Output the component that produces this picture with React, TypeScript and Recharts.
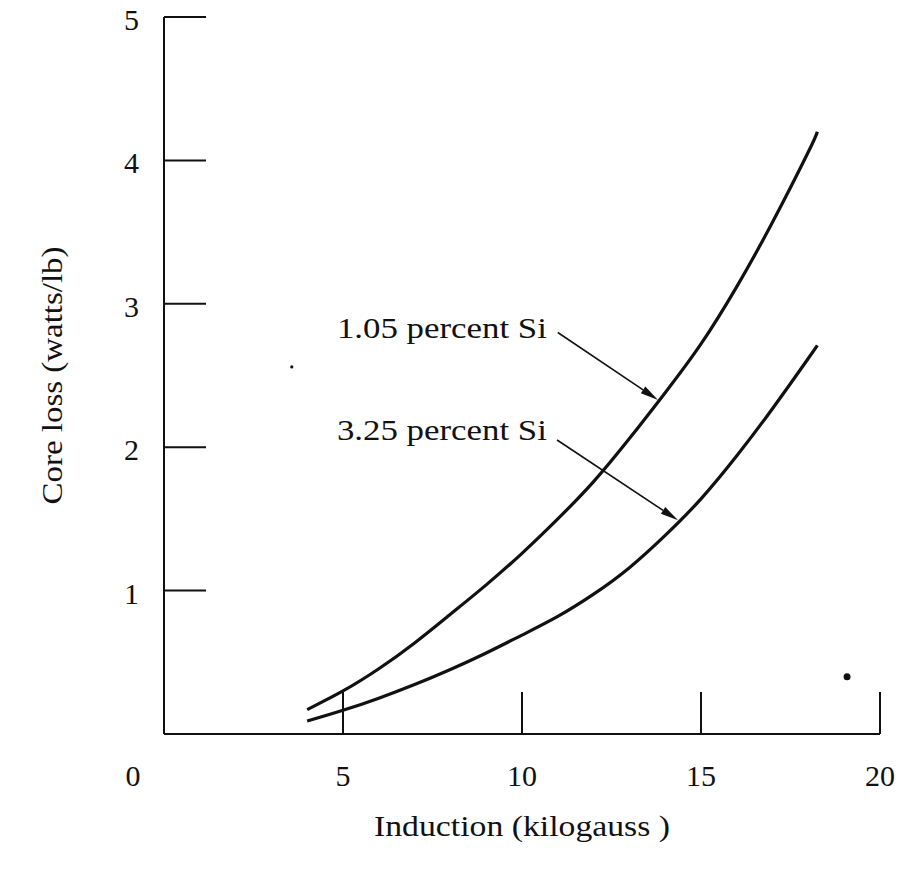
import React from 'react';
import { ComposedChart, Line, XAxis, YAxis, ReferenceLine, ReferenceDot } from 'recharts';

// induction (kilogauss) and core loss (watts/lb)
const induction = [4, 5, 6, 7, 8, 9, 10, 11, 12, 13, 14, 15, 16, 17, 18, 18.25];
const loss105 = [0.17, 0.3, 0.455, 0.635, 0.835, 1.04, 1.26, 1.5, 1.76, 2.06, 2.38, 2.72, 3.12, 3.57, 4.06, 4.2];
const loss325 = [0.09, 0.165, 0.25, 0.345, 0.45, 0.565, 0.69, 0.82, 0.975, 1.16, 1.385, 1.64, 1.94, 2.27, 2.62, 2.71];

const xTicks = [0, 5, 10, 15, 20];
const yTicks = [0, 1, 2, 3, 4, 5];

const labelText = ['1.05 percent Si', '3.25 percent Si'];
const labelAt = [{ x: 4.83, y: 2.76 }, { x: 4.83, y: 2.05 }];
const arrowFrom = [{ x: 11.0, y: 2.8 }, { x: 10.98, y: 2.05 }];
const arrowTo = [{ x: 13.8, y: 2.33 }, { x: 14.36, y: 1.49 }];

// stray specks in the scan
const speckX = [3.57, 19.08];
const speckY = [2.56, 0.4];
const speckR = [1.6, 3.5];

const rows = induction.map((x, i) => ({ x, low: loss105[i], high: loss325[i] }));

const INK = '#111';
const FONT = 'Liberation Serif, Times New Roman, serif';

function XTick(props: any) {
  const { x, y, payload } = props;
  const v = payload.value;
  return (
    <g>
      {v !== 0 && <line x1={x} y1={y} x2={x} y2={y - 42} stroke={INK} strokeWidth={2} />}
      <text x={v === 0 ? x - 31 : x} y={y + 52} textAnchor="middle" fontSize={30} fontFamily={FONT} fill={INK}>
        {v}
      </text>
    </g>
  );
}

function YTick(props: any) {
  const { x, y, payload } = props;
  const v = payload.value;
  if (v === 0) return null;
  return (
    <g>
      <line x1={x} y1={y} x2={x + 42} y2={y} stroke={INK} strokeWidth={2} />
      <text x={x - 25} y={y + 13} textAnchor="end" fontSize={30} fontFamily={FONT} fill={INK}>
        {v}
      </text>
    </g>
  );
}

function Arrow(p: any) {
  const { x1, y1, x2, y2 } = p;
  const a = Math.atan2(y2 - y1, x2 - x1);
  const len = 18;
  const half = 4;
  const bx = x2 - len * Math.cos(a);
  const by = y2 - len * Math.sin(a);
  const nx = -Math.sin(a) * half;
  const ny = Math.cos(a) * half;
  return (
    <g>
      <line x1={x1} y1={y1} x2={bx} y2={by} stroke={INK} strokeWidth={1.6} />
      <polygon points={`${x2},${y2} ${bx + nx},${by + ny} ${bx - nx},${by - ny}`} fill={INK} />
    </g>
  );
}

export default function App() {
  return (
    <div style={{ position: 'absolute', left: 0, top: 0, background: '#fff' }}>
      <ComposedChart width={900} height={871} data={rows} margin={{ top: 17, right: 20, bottom: 77, left: 104 }}>
        <XAxis
          dataKey="x"
          type="number"
          domain={[0, 20]}
          ticks={xTicks}
          interval={0}
          tickSize={0}
          tickMargin={0}
          tickLine={false}
          tick={(p: any) => <XTick {...p} />}
          axisLine={{ stroke: INK, strokeWidth: 2 }}
          height={60}
          label={{
            content: (p: any) => {
              const vb = p.viewBox;
              return (
                <text x={vb.x + vb.width / 2} y={vb.y + 102} textAnchor="middle" fontSize={30} fontFamily={FONT} fill={INK} textLength={296} lengthAdjust="spacingAndGlyphs">
                  Induction (kilogauss )
                </text>
              );
            },
          }}
        />
        <YAxis
          type="number"
          domain={[0, 5]}
          ticks={yTicks}
          interval={0}
          tickSize={0}
          tickMargin={0}
          tickLine={false}
          tick={(p: any) => <YTick {...p} />}
          axisLine={{ stroke: INK, strokeWidth: 2 }}
          width={60}
          label={{
            content: (p: any) => {
              const vb = p.viewBox;
              const cx = vb.x - 42;
              const cy = vb.y + vb.height / 2;
              return (
                <text x={cx} y={cy} transform={`rotate(-90, ${cx}, ${cy})`} textAnchor="middle" fontSize={30} fontFamily={FONT} fill={INK} textLength={258} lengthAdjust="spacingAndGlyphs">
                  Core loss (watts/lb)
                </text>
              );
            },
          }}
        />
        <Line dataKey="low" type="natural" stroke={INK} strokeWidth={3.2} dot={false} isAnimationActive={false} />
        <Line dataKey="high" type="natural" stroke={INK} strokeWidth={3.2} dot={false} isAnimationActive={false} />
        {labelText.map((t, i) => (
          <ReferenceDot
            key={t}
            x={labelAt[i].x}
            y={labelAt[i].y}
            r={0}
            ifOverflow="visible"
            shape={(p: any) => (
              <text x={p.cx} y={p.cy} fontSize={30} fontFamily={FONT} fill={INK} textLength={210} lengthAdjust="spacingAndGlyphs">
                {t}
              </text>
            )}
          />
        ))}
        {arrowFrom.map((f, i) => (
          <ReferenceLine key={i} segment={[f, arrowTo[i]]} ifOverflow="visible" shape={(p: any) => <Arrow {...p} />} />
        ))}
        {speckX.map((x, i) => (
          <ReferenceDot key={'s' + i} x={x} y={speckY[i]} r={speckR[i]} fill={INK} stroke="none" ifOverflow="visible" />
        ))}
      </ComposedChart>
    </div>
  );
}
